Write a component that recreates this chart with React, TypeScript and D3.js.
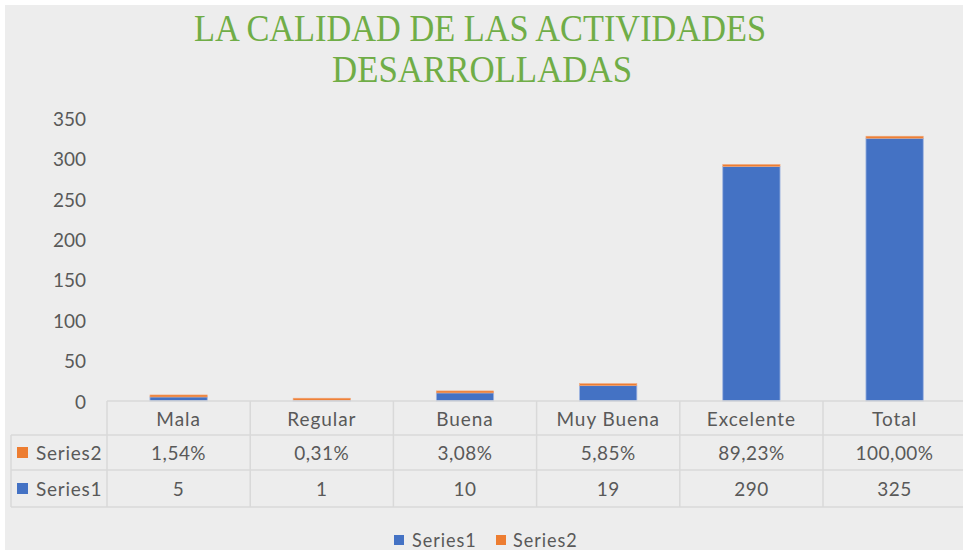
import React from "react";
import * as d3 from "d3";

const categories = ["Mala", "Regular", "Buena", "Muy Buena", "Excelente", "Total"];
const series1 = [5, 1, 10, 19, 290, 325];
const series2Pct = [1.54, 0.31, 3.08, 5.85, 89.23, 100.0];
const series2Labels = ["1,54%", "0,31%", "3,08%", "5,85%", "89,23%", "100,00%"];
const yTicks = [0, 50, 100, 150, 200, 250, 300, 350];
const titleLines = ["LA CALIDAD DE LAS ACTIVIDADES", "DESARROLLADAS"];

const W = 963;
const H = 550;
const BLUE = "#4472C4";
const ORANGE = "#ED7D31";
const TXT = "#595959";
const GRID = "#D9D9D9";
const FONT = "Lato, 'Open Sans', sans-serif";

export default function App() {
  const tableLeft = 107;
  const colW = 143.2;
  const x = d3
    .scaleBand<string>()
    .domain(categories)
    .range([tableLeft, tableLeft + colW * categories.length])
    .paddingInner(0.6)
    .paddingOuter(0.3);
  const y = d3.scaleLinear().domain([0, 350]).range([401, 118]);

  const rowCat = [401, 435];
  const rowS2 = [435, 470];
  const rowS1 = [470, 507];
  const labelLeft = 11;
  const right = tableLeft + colW * categories.length;

  const sx = 0.95;
  const T = (
    tx: number,
    ty: number,
    s: string,
    anchor: string,
    size = 20,
    ls = 0,
    key?: string
  ) => (
    <text
      key={key}
      transform={`translate(${tx},${ty}) scale(${sx},1)`}
      textAnchor={anchor}
      dominantBaseline="central"
      fontFamily={FONT}
      fontSize={size}
      letterSpacing={ls}
      fill={TXT}
    >
      {s}
    </text>
  );

  return (
    <svg
      width={W}
      height={H}
      style={{ position: "absolute", left: 0, top: 0, background: "#ffffff" }}
    >
      <rect x={5} y={5} width={W - 5} height={H - 5} fill="#EDEDED" />
      {/* title */}
      <text
        x={480}
        y={41}
        textAnchor="middle"
        fontFamily="'Liberation Serif', 'Times New Roman', serif"
        fontSize={38}
        fill="#70AD47"
        textLength={572}
        lengthAdjust="spacingAndGlyphs"
      >
        {titleLines[0]}
      </text>
      <text
        x={482}
        y={82}
        textAnchor="middle"
        fontFamily="'Liberation Serif', 'Times New Roman', serif"
        fontSize={38}
        fill="#70AD47"
        textLength={300}
        lengthAdjust="spacingAndGlyphs"
      >
        {titleLines[1]}
      </text>

      {/* y axis labels */}
      {yTicks.map((t) => T(86, y(t), String(t), "end", 20, 0, "yt" + t))}

      {/* bars */}
      {categories.map((c, i) => {
        const bx = x(c)!;
        const bw = x.bandwidth();
        const s1 = series1[i];
        const s2 = series2Pct[i] / 100;
        const top1 = y(s1);
        const top2 = y(s1 + s2);
        const h2 = Math.max(y(s1) - top2, 2);
        return (
          <g key={c}>
            <rect
              x={bx}
              y={top1}
              width={bw}
              height={y(0) - top1}
              fill={BLUE}
              stroke="#9DB3E0"
              strokeWidth={0.8}
            />
            <rect
              x={bx}
              y={top1 - h2}
              width={bw}
              height={h2}
              fill={ORANGE}
              stroke="#F2A77A"
              strokeWidth={0.6}
            />
          </g>
        );
      })}

      {/* data table */}
      <g stroke={GRID} strokeWidth={1.5} fill="none">
        <line x1={tableLeft} x2={right} y1={rowCat[0]} y2={rowCat[0]} />
        <line x1={labelLeft} x2={right} y1={rowS2[0]} y2={rowS2[0]} />
        <line x1={labelLeft} x2={right} y1={rowS1[0]} y2={rowS1[0]} />
        <line x1={labelLeft} x2={right} y1={rowS1[1]} y2={rowS1[1]} />
        <line x1={labelLeft} x2={labelLeft} y1={rowS2[0]} y2={rowS1[1]} />
        {categories.map((c, i) => (
          <line
            key={"v" + c}
            x1={tableLeft + colW * i}
            x2={tableLeft + colW * i}
            y1={rowCat[0]}
            y2={rowS1[1]}
          />
        ))}
      </g>
      {categories.map((c, i) => {
        const cx = tableLeft + colW * (i + 0.5);
        return (
          <g key={"t" + c}>
            {T(cx, (rowCat[0] + rowCat[1]) / 2, c, "middle", 20, 1)}
            {T(cx, (rowS2[0] + rowS2[1]) / 2, series2Labels[i], "middle", 20, 0.5)}
            {T(cx, (rowS1[0] + rowS1[1]) / 2, String(series1[i]), "middle", 20, 0.5)}
          </g>
        );
      })}
      <rect x={17} y={(rowS2[0] + rowS2[1]) / 2 - 5.5} width={11} height={11} fill={ORANGE} />
      {T(36, (rowS2[0] + rowS2[1]) / 2, "Series2", "start", 20, 0.8)}
      <rect x={17} y={(rowS1[0] + rowS1[1]) / 2 - 5.5} width={11} height={11} fill={BLUE} />
      {T(36, (rowS1[0] + rowS1[1]) / 2, "Series1", "start", 20, 0.8)}

      {/* legend */}
      <rect x={394} y={535} width={10} height={10} fill={BLUE} />
      {T(412, 540, "Series1", "start", 19, 1)}
      <rect x={496} y={535} width={10} height={10} fill={ORANGE} />
      {T(513, 540, "Series2", "start", 19, 1)}
    </svg>
  );
}
